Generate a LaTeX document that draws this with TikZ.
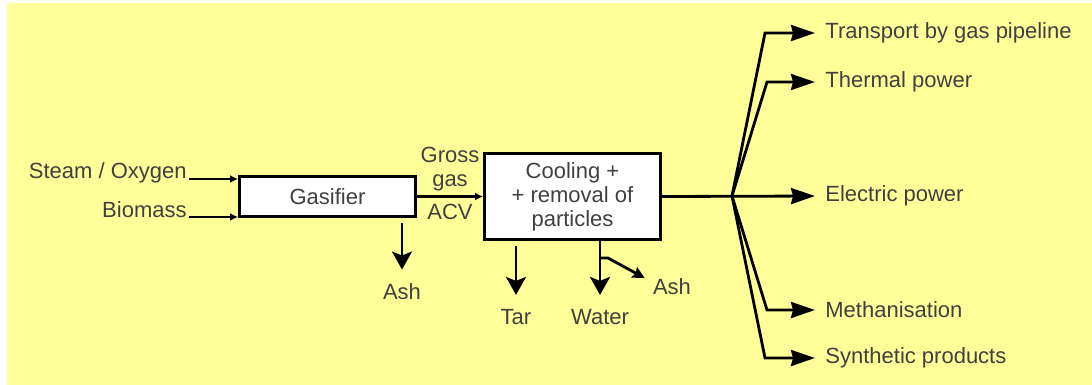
\documentclass[tikz,border=0pt]{standalone}
\usepackage{fontspec}
\setmainfont{Liberation Sans}
\usetikzlibrary{arrows.meta,positioning,calc}
\definecolor{bgyellow}{RGB}{255,255,153}

\begin{document}
\begin{tikzpicture}[x=0.5pt, y=-0.5pt,
  font=\fontsize{11}{12}\selectfont,
  unit/.style={draw, line width=1.5pt, fill=white, align=center, text=black!75, inner sep=1pt},
  lbl/.style={text=black!75, inner sep=1pt, align=center},
  flow/.style={line width=1.4pt},
  feed/.style={flow, -{Latex[length=4pt,width=4pt]}},
  drop/.style={flow, -{Stealth[length=9pt,width=10pt,inset=2pt]}, shorten <=2.5pt, shorten >=6pt},
  product/.style={flow, -{Stealth[length=12pt,width=8pt,inset=1pt]}, shorten >=4pt}
]
\useasboundingbox (0,0) rectangle (1092,385);
\fill[bgyellow] (7,3) rectangle (1092,385);

% process units
\node[unit, minimum width=88pt, minimum height=20pt] (gasifier) at (327.5,196.5) {Gasifier};
\node[unit, minimum width=88pt, minimum height=43pt] (cooling) at (572.5,196.5) {Cooling +\\+ removal of\\particles};

% feeds
\node[lbl, anchor=east] (steam) at (189,173) {Steam / Oxygen};
\node[lbl, anchor=east] (biomass) at (189,210) {Biomass};
\draw[feed] ([yshift=-3pt]steam.east) -- ([yshift=-3pt]steam.east -| gasifier.west);
\draw[feed] ([yshift=-3.5pt]biomass.east) -- ([yshift=-3.5pt]biomass.east -| gasifier.west);

% residues
\node[lbl] (ash1) at (402,292) {Ash};
\node[lbl] (tar) at (516,317) {Tar};
\node[lbl] (water) at (600,317) {Water};
\node[lbl] (ash2) at (672,287) {Ash};
\draw[drop] (ash1 |- gasifier.south) -- (ash1.north);
\draw[drop] (tar |- cooling.south) -- (tar.north);
\draw[drop, shorten <=0pt] (water |- cooling.south) -- (water.north);
\coordinate (split) at (600,258);
\draw[flow, -{Stealth[length=6pt,width=6pt,inset=1pt]}] (split) -- ++(8,0) -- ($(ash2.west)+(-6,-9)$);

% gross gas
\draw[feed] (gasifier) -- node[lbl, above=1pt] {Gross\\gas} node[lbl, below=2pt] {ACV} (cooling);

% products
\node[lbl, anchor=west] (transport) at (823,33) {Transport by gas pipeline};
\node[lbl, anchor=west] (thermal) at (823,82) {Thermal power};
\node[lbl, anchor=west] (electric) at (823,196) {Electric power};
\node[lbl, anchor=west] (methan) at (823,310) {Methanisation};
\node[lbl, anchor=west] (synth) at (823,358) {Synthetic products};
\coordinate (fan) at (732,196);
\draw[product] (cooling.east) -- (electric.west);
\draw[product] (fan) -- ($(transport.west)+(-58,0)$) -- (transport.west);
\draw[product] (fan) -- ($(thermal.west)+(-56,0)$) -- (thermal.west);
\draw[product] (fan) -- ($(methan.west)+(-56,0)$) -- (methan.west);
\draw[product] (fan) -- ($(synth.west)+(-58,0)$) -- (synth.west);
\end{tikzpicture}
\end{document}
